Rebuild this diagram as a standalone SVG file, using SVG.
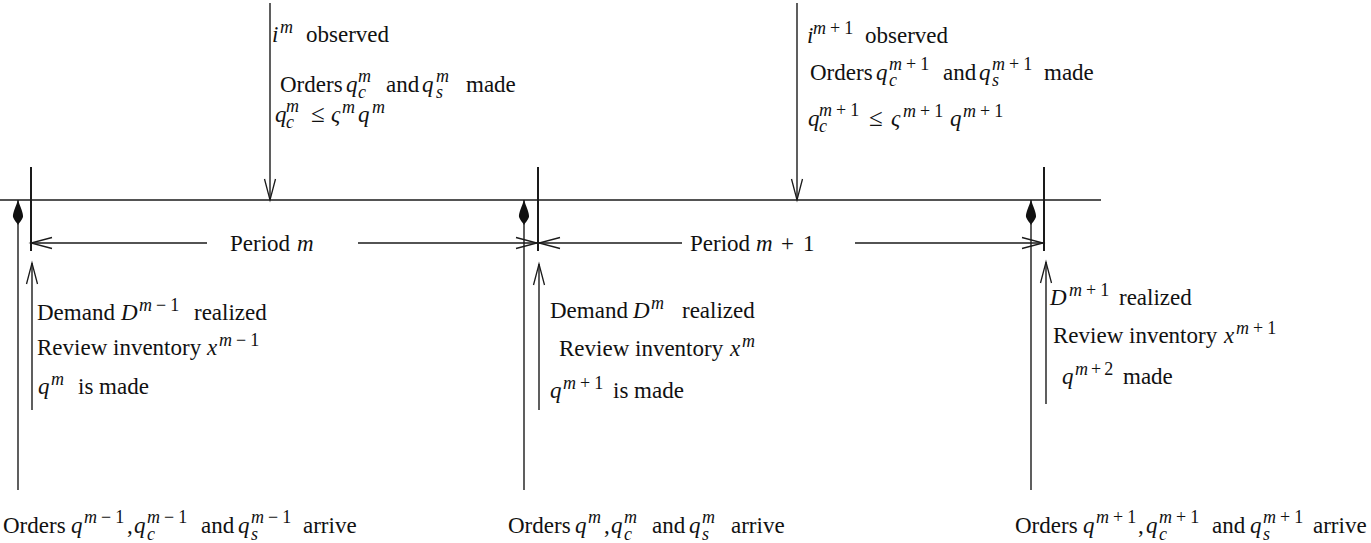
<svg xmlns="http://www.w3.org/2000/svg" width="1371" height="543" viewBox="0 0 1371 543">
<style>
.t{font-family:"Liberation Serif","Times New Roman",serif;font-size:23px;fill:#111}
.it{font-style:italic}
.sp{font-size:18px}
.le{font-size:25px}
.ln{stroke:#1a1a1a;stroke-width:1.4;fill:none}
.tk{stroke:#1a1a1a;stroke-width:2;fill:none}
.ar{marker-end:url(#open)}
.dr{marker-end:url(#drop)}
</style>
<defs>
<marker id="open" markerUnits="userSpaceOnUse" orient="auto" refX="0" refY="0" markerWidth="30" markerHeight="30" overflow="visible">
<path d="M-21,-5.5 L0,0 L-21,5.5" fill="none" stroke="#1a1a1a" stroke-width="1.3"/>
</marker>
<marker id="drop" markerUnits="userSpaceOnUse" orient="auto" refX="0" refY="0" markerWidth="30" markerHeight="30" overflow="visible">
<path d="M0,0 C-6,-2 -13,-5.5 -17,-5 C-20,-4 -23,-1 -25,0 C-23,1 -20,4 -17,5 C-13,5.5 -6,2 0,0 Z" fill="#111"/>
</marker>
</defs>
<rect width="1371" height="543" fill="#fff"/>
<g id="connectors">
<path class="ln" d="M0,200 H1101"/>
<path class="tk" d="M31,167 V251"/>
<path class="tk" d="M538,167 V251"/>
<path class="tk" d="M1044,167 V251"/>
<path class="ln dr" d="M18,490 V200"/>
<path class="ln dr" d="M524,490 V200"/>
<path class="ln dr" d="M1031,490 V200"/>
<path class="ln ar" d="M32,410 V263"/>
<path class="ln ar" d="M539,410 V264"/>
<path class="ln ar" d="M1046,404 V262"/>
<path class="ln ar" d="M270,3 V200"/>
<path class="ln ar" d="M797,3 V200"/>
<path class="ln ar" d="M207,243 H31"/>
<path class="ln ar" d="M358,243 H537"/>
<path class="ln ar" d="M682,243 H539"/>
<path class="ln ar" d="M855,243 H1043"/>
</g>
<g id="period-m"><text class="t"><tspan x="230" y="251">Period</tspan><tspan x="297" class="it">m</tspan></text></g>
<g id="period-m1"><text class="t"><tspan x="690" y="251">Period</tspan><tspan x="756" class="it">m</tspan><tspan x="781">+</tspan><tspan x="803">1</tspan></text></g>
<g id="orders-m">
<text class="t"><tspan x="272" y="42" class="it">i</tspan><tspan x="280" y="33" class="sp it">m</tspan><tspan x="306" y="42">observed</tspan></text>
<text class="t"><tspan x="280" y="92">Orders</tspan><tspan x="346" class="it">q</tspan><tspan x="358" y="82" class="sp it">m</tspan><tspan x="358" y="98" class="sp it">c</tspan><tspan x="386" y="92">and</tspan><tspan x="422" class="it">q</tspan><tspan x="436" y="82" class="sp it">m</tspan><tspan x="436" y="98" class="sp it">s</tspan><tspan x="466" y="92">made</tspan></text>
<text class="t"><tspan x="275" y="122" class="it">q</tspan><tspan x="286" y="112" class="sp it">m</tspan><tspan x="286" y="128" class="sp it">c</tspan><tspan x="311" y="122" class="le">≤</tspan><tspan x="331" class="it">ς</tspan><tspan x="342" y="113" class="sp it">m</tspan><tspan x="358" y="122" class="it">q</tspan><tspan x="372" y="113" class="sp it">m</tspan></text>
</g>
<g id="orders-m1">
<text class="t"><tspan x="807" y="43" class="it">i</tspan><tspan x="813" y="34" class="sp it">m</tspan><tspan class="sp" dx="4">+</tspan><tspan class="sp" dx="4">1</tspan><tspan x="865" y="43">observed</tspan></text>
<text class="t"><tspan x="810" y="80">Orders</tspan><tspan x="876" class="it">q</tspan><tspan x="889" y="70" class="sp it">m</tspan><tspan class="sp" dx="4">+</tspan><tspan class="sp" dx="4">1</tspan><tspan x="889" y="86" class="sp it">c</tspan><tspan x="943" y="80">and</tspan><tspan x="979" class="it">q</tspan><tspan x="992" y="70" class="sp it">m</tspan><tspan class="sp" dx="4">+</tspan><tspan class="sp" dx="4">1</tspan><tspan x="992" y="86" class="sp it">s</tspan><tspan x="1044" y="80">made</tspan></text>
<text class="t"><tspan x="808" y="126" class="it">q</tspan><tspan x="819" y="116" class="sp it">m</tspan><tspan class="sp" dx="4">+</tspan><tspan class="sp" dx="4">1</tspan><tspan x="819" y="132" class="sp it">c</tspan><tspan x="869" y="126" class="le">≤</tspan><tspan x="891" class="it">ς</tspan><tspan x="903" y="117" class="sp it">m</tspan><tspan class="sp" dx="4">+</tspan><tspan class="sp" dx="4">1</tspan><tspan x="950" y="126" class="it">q</tspan><tspan x="963" y="117" class="sp it">m</tspan><tspan class="sp" dx="4">+</tspan><tspan class="sp" dx="4">1</tspan></text>
</g>
<g id="demand-m-1">
<text class="t"><tspan x="37" y="320">Demand</tspan><tspan x="121" class="it">D</tspan><tspan x="139" y="311" class="sp it">m</tspan><tspan class="sp" dx="4">−</tspan><tspan class="sp" dx="4">1</tspan><tspan x="194" y="320">realized</tspan></text>
<text class="t"><tspan x="37" y="355">Review inventory</tspan><tspan x="207" class="it">x</tspan><tspan x="219" y="346" class="sp it">m</tspan><tspan class="sp" dx="4">−</tspan><tspan class="sp" dx="4">1</tspan></text>
<text class="t"><tspan x="38" y="394" class="it">q</tspan><tspan x="51" y="385" class="sp it">m</tspan><tspan x="78" y="394">is made</tspan></text>
</g>
<g id="demand-m">
<text class="t"><tspan x="550" y="318">Demand</tspan><tspan x="633" class="it">D</tspan><tspan x="651" y="309" class="sp it">m</tspan><tspan x="682" y="318">realized</tspan></text>
<text class="t"><tspan x="559" y="356">Review inventory</tspan><tspan x="730" class="it">x</tspan><tspan x="742" y="347" class="sp it">m</tspan></text>
<text class="t"><tspan x="550" y="398" class="it">q</tspan><tspan x="563" y="389" class="sp it">m</tspan><tspan class="sp" dx="4">+</tspan><tspan class="sp" dx="4">1</tspan><tspan x="613" y="398">is made</tspan></text>
</g>
<g id="demand-m1">
<text class="t"><tspan x="1050" y="305" class="it">D</tspan><tspan x="1069" y="296" class="sp it">m</tspan><tspan class="sp" dx="4">+</tspan><tspan class="sp" dx="4">1</tspan><tspan x="1119" y="305">realized</tspan></text>
<text class="t"><tspan x="1053" y="343">Review inventory</tspan><tspan x="1224" class="it">x</tspan><tspan x="1236" y="334" class="sp it">m</tspan><tspan class="sp" dx="4">+</tspan><tspan class="sp" dx="4">1</tspan></text>
<text class="t"><tspan x="1062" y="384" class="it">q</tspan><tspan x="1075" y="375" class="sp it">m</tspan><tspan class="sp" dx="3">+</tspan><tspan class="sp" dx="3">2</tspan><tspan x="1123" y="384">made</tspan></text>
</g>
<g id="arrive-m-1">
<text class="t"><tspan x="3" y="533">Orders</tspan><tspan x="71" class="it">q</tspan><tspan x="84" y="523" class="sp it">m</tspan><tspan class="sp" dx="4">−</tspan><tspan class="sp" dx="4">1</tspan><tspan x="127" y="533">,</tspan><tspan x="134" class="it">q</tspan><tspan x="147" y="523" class="sp it">m</tspan><tspan class="sp" dx="4">−</tspan><tspan class="sp" dx="4">1</tspan><tspan x="147" y="540" class="sp it">c</tspan><tspan x="201" y="533">and</tspan><tspan x="238" class="it">q</tspan><tspan x="251" y="523" class="sp it">m</tspan><tspan class="sp" dx="4">−</tspan><tspan class="sp" dx="4">1</tspan><tspan x="251" y="540" class="sp it">s</tspan><tspan x="303" y="533">arrive</tspan></text>
</g>
<g id="arrive-m">
<text class="t"><tspan x="508" y="533">Orders</tspan><tspan x="575" class="it">q</tspan><tspan x="588" y="523" class="sp it">m</tspan><tspan x="604" y="533">,</tspan><tspan x="611" class="it">q</tspan><tspan x="624" y="523" class="sp it">m</tspan><tspan x="624" y="540" class="sp it">c</tspan><tspan x="652" y="533">and</tspan><tspan x="689" class="it">q</tspan><tspan x="702" y="523" class="sp it">m</tspan><tspan x="702" y="540" class="sp it">s</tspan><tspan x="731" y="533">arrive</tspan></text>
</g>
<g id="arrive-m1">
<text class="t"><tspan x="1015" y="533">Orders</tspan><tspan x="1083" class="it">q</tspan><tspan x="1096" y="523" class="sp it">m</tspan><tspan class="sp" dx="4">+</tspan><tspan class="sp" dx="4">1</tspan><tspan x="1138" y="533">,</tspan><tspan x="1146" class="it">q</tspan><tspan x="1159" y="523" class="sp it">m</tspan><tspan class="sp" dx="4">+</tspan><tspan class="sp" dx="4">1</tspan><tspan x="1159" y="540" class="sp it">c</tspan><tspan x="1212" y="533">and</tspan><tspan x="1250" class="it">q</tspan><tspan x="1263" y="523" class="sp it">m</tspan><tspan class="sp" dx="4">+</tspan><tspan class="sp" dx="4">1</tspan><tspan x="1263" y="540" class="sp it">s</tspan><tspan x="1313" y="533">arrive</tspan></text>
</g>
</svg>
